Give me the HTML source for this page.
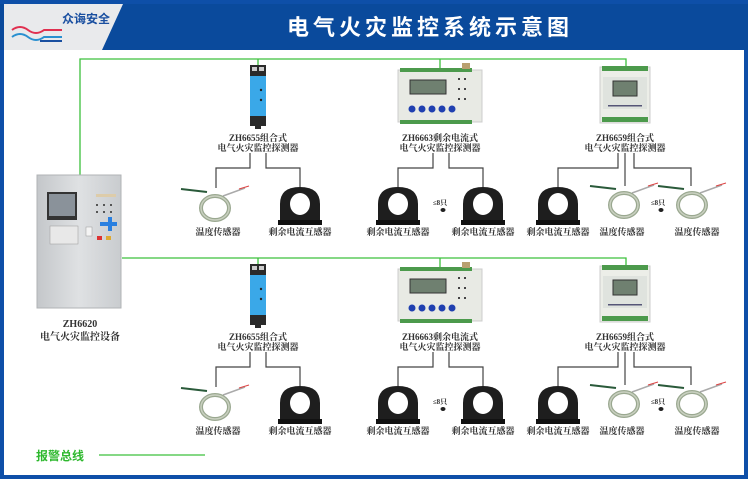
<!DOCTYPE html>
<html><head><meta charset="utf-8"><style>
html,body{margin:0;padding:0;background:#fff}
svg{display:block}
text{font-family:"Liberation Serif","Noto Serif CJK SC","Noto Sans CJK SC",serif;font-weight:bold;fill:#333}
</style></head><body>
<svg width="750" height="480" viewBox="0 0 750 480" xmlns="http://www.w3.org/2000/svg">
<defs>
<linearGradient id="cab" x1="0" x2="1"><stop offset="0" stop-color="#c4c7ca"/><stop offset=".5" stop-color="#dfe1e3"/><stop offset="1" stop-color="#c9cccf"/></linearGradient>
<g id="ct">
 <path d="M-20,34 L-20,14 Q-20,-3 0,-3 Q20,-3 20,14 L20,34 Z" fill="#1e1e1e"/>
 <rect x="-22" y="30" width="44" height="5" fill="#111"/>
 <ellipse cx="0" cy="14" rx="10" ry="11" fill="#fff"/>
</g>
<g id="ts">
 <line x1="-34" y1="-19" x2="-8" y2="-16" stroke="#2a5a3a" stroke-width="2"/>
 <line x1="8" y1="-12" x2="30" y2="-20" stroke="#aaa" stroke-width="1.5"/>
 <line x1="24" y1="-19" x2="34" y2="-22" stroke="#d44" stroke-width="1"/>
 <ellipse cx="0" cy="0" rx="14" ry="12" fill="none" stroke="#9aa890" stroke-width="4"/>
 <ellipse cx="0" cy="0" rx="14" ry="12" fill="none" stroke="#c9d0c0" stroke-width="1.5"/>
</g>
<g id="din">
 <rect x="0" y="0" width="16" height="11" fill="#2a2a2a"/>
 <rect x="2" y="2" width="5" height="4" fill="#ccc"/><rect x="9" y="2" width="5" height="4" fill="#ccc"/>
 <rect x="0" y="11" width="16" height="40" fill="#3aa8e8"/>
 <circle cx="11" cy="25" r="1.2" fill="#222"/><circle cx="11" cy="35" r="1.2" fill="#222"/>
 <rect x="0" y="51" width="16" height="10" fill="#2a2a2a"/>
 <rect x="5" y="61" width="6" height="3" fill="#2a2a2a"/>
</g>
<g id="m63">
 <rect x="0" y="0" width="84" height="52" fill="#e8eae4" stroke="#ccc"/>
 <rect x="2" y="-2" width="72" height="4" fill="#4c9a4c"/>
 <rect x="2" y="50" width="72" height="4" fill="#4c9a4c"/>
 <rect x="64" y="-7" width="8" height="6" fill="#b9a070"/>
 <rect x="12" y="10" width="36" height="14" fill="#6f8070" stroke="#333"/>
 <circle cx="14" cy="39" r="3.5" fill="#2040b0"/><circle cx="24" cy="39" r="3.5" fill="#2040b0"/><circle cx="34" cy="39" r="3.5" fill="#2040b0"/><circle cx="44" cy="39" r="3.5" fill="#2040b0"/><circle cx="54" cy="39" r="3.5" fill="#2040b0"/>
 <g fill="#444"><rect x="60" y="8" width="2" height="2"/><rect x="66" y="8" width="2" height="2"/><rect x="60" y="18" width="2" height="2"/><rect x="66" y="18" width="2" height="2"/><rect x="60" y="28" width="2" height="2"/><rect x="66" y="28" width="2" height="2"/></g>
</g>
<g id="m59">
 <rect x="0" y="0" width="50" height="56" fill="#eceee8" stroke="#ccc"/>
 <rect x="2" y="-1" width="46" height="5" fill="#4c9a4c"/>
 <rect x="2" y="50" width="46" height="5" fill="#4c9a4c"/>
 <rect x="3" y="10" width="44" height="32" fill="#dfe3de"/>
 <rect x="13" y="14" width="24" height="15" fill="#6f8070" stroke="#333"/>
 <rect x="8" y="38" width="34" height="1.5" fill="#557"/>
</g>
</defs>

<rect x="2" y="2" width="744" height="475" fill="none" stroke="#0e4fa8" stroke-width="4"/>
<rect x="0" y="4" width="748" height="46" fill="#0a4a9c"/>
<polygon points="4,4 123,4 102,50 4,50" fill="#e9eaec"/>
<text x="62" y="23" font-size="12" style="fill:#1a4fa0;font-family:'Liberation Sans','Noto Sans CJK SC',sans-serif">众诲安全</text>
<path d="M12,30 Q20,24 28,30 T44,30 L62,30" stroke="#e03050" stroke-width="2" fill="none"/>
<path d="M12,37 Q20,31 28,37 T44,37 L62,37" stroke="#2a90d0" stroke-width="2" fill="none"/>
<rect x="40" y="40" width="22" height="2" fill="#1a4fa0"/>
<text x="430" y="35" font-size="22" text-anchor="middle" letter-spacing="4" style="fill:#fff;font-family:'Liberation Sans','Noto Sans CJK SC',sans-serif">电气火灾监控系统示意图</text>

<g stroke="#3cc03c" stroke-width="1.3" fill="none">
 <polyline points="80,176 80,59 626,59 626,68"/>
 <line x1="258" y1="59" x2="258" y2="66"/><line x1="440" y1="59" x2="440" y2="68"/>
 <polyline points="122,258 626,258 626,268"/>
 <line x1="258" y1="258" x2="258" y2="265"/><line x1="440" y1="258" x2="440" y2="268"/>
 <line x1="99" y1="455" x2="205" y2="455"/>
</g>
<text x="36" y="460" font-size="12" style="fill:#2eb82e;font-family:'Liberation Sans','Noto Sans CJK SC',sans-serif">报警总线</text>

<rect x="37" y="175" width="84" height="133" fill="url(#cab)" stroke="#b0b3b6"/>
<rect x="47" y="192" width="30" height="28" fill="#333"/><rect x="49" y="194" width="26" height="22" fill="#8a929a"/>
<rect x="50" y="226" width="28" height="18" fill="#e8e8e8" stroke="#999" stroke-width=".5"/>
<rect x="86" y="227" width="6" height="9" fill="#f4f4f4" stroke="#999" stroke-width=".5"/>
<path d="M100,222 h8 v-5 h4 v5 h5 v4 h-5 v5 h-4 v-5 h-8z" fill="#2a80e0"/>
<rect x="97" y="236" width="5" height="4" fill="#d33"/><rect x="106" y="236" width="5" height="4" fill="#da3"/>
<g fill="#555"><rect x="96" y="204" width="2" height="2"/><rect x="103" y="204" width="2" height="2"/><rect x="110" y="204" width="2" height="2"/><rect x="96" y="211" width="2" height="2"/><rect x="103" y="211" width="2" height="2"/><rect x="110" y="211" width="2" height="2"/></g>
<rect x="96" y="194" width="20" height="3" fill="#dca"/>
<text x="80" y="327" font-size="10" text-anchor="middle">ZH6620</text>
<text x="80" y="340" font-size="10" text-anchor="middle">电气火灾监控设备</text>

<g id="row">
 <use href="#din" x="250" y="65"/>
 <use href="#m63" x="398" y="70"/>
 <use href="#m59" x="600" y="67"/>
 <text x="258" y="141" font-size="9" text-anchor="middle">ZH6655组合式</text>
 <text x="258" y="151" font-size="9" text-anchor="middle">电气火灾监控探测器</text>
 <text x="440" y="141" font-size="9" text-anchor="middle">ZH6663剩余电流式</text>
 <text x="440" y="151" font-size="9" text-anchor="middle">电气火灾监控探测器</text>
 <text x="625" y="141" font-size="9" text-anchor="middle">ZH6659组合式</text>
 <text x="625" y="151" font-size="9" text-anchor="middle">电气火灾监控探测器</text>
 <g stroke="#444" stroke-width="1.2" fill="none">
  <polyline points="250,153 250,168 216,168 216,188"/>
  <polyline points="266,153 266,168 300,168 300,190"/>
  <polyline points="433,153 433,168 398,168 398,190"/>
  <polyline points="449,153 449,168 483,168 483,190"/>
  <polyline points="618,153 618,168 558,168 558,190"/>
  <polyline points="625,153 625,186"/>
  <polyline points="634,153 634,168 691,168 691,186"/>
 </g>
 <use href="#ts" x="215" y="208"/>
 <use href="#ct" x="300" y="190"/>
 <use href="#ct" x="398" y="190"/>
 <use href="#ct" x="483" y="190"/>
 <use href="#ct" x="558" y="190"/>
 <use href="#ts" x="624" y="205"/>
 <use href="#ts" x="692" y="205"/>
 <text x="440" y="205" font-size="7" text-anchor="middle">≤8只</text>
 <ellipse cx="443" cy="210" rx="2.5" ry="2" fill="#222"/>
 <text x="658" y="205" font-size="7" text-anchor="middle">≤8只</text>
 <ellipse cx="661" cy="210" rx="2.5" ry="2" fill="#222"/>
 <text x="218" y="235" font-size="9" text-anchor="middle">温度传感器</text>
 <text x="300" y="235" font-size="9" text-anchor="middle">剩余电流互感器</text>
 <text x="398" y="235" font-size="9" text-anchor="middle">剩余电流互感器</text>
 <text x="483" y="235" font-size="9" text-anchor="middle">剩余电流互感器</text>
 <text x="558" y="235" font-size="9" text-anchor="middle">剩余电流互感器</text>
 <text x="622" y="235" font-size="9" text-anchor="middle">温度传感器</text>
 <text x="697" y="235" font-size="9" text-anchor="middle">温度传感器</text>
</g>
<use href="#row" x="0" y="199"/>
</svg>
</body></html>
